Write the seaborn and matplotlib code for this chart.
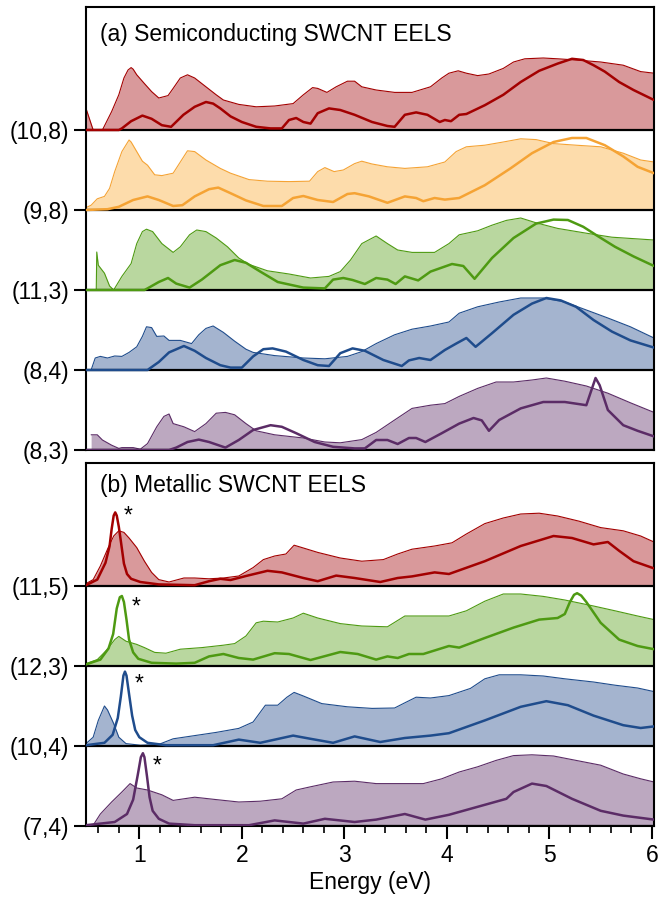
import numpy as np
import matplotlib
matplotlib.use("Agg")
import matplotlib.pyplot as plt
from matplotlib.ticker import MultipleLocator
import seaborn as sns

# ---------------- data (energy in eV, intensity in units of trace spacing) ----------------
# (a) semiconducting tubes: measured EELS (filled) and calculated loss function (line)
e_10_8_exp = [0.48, 0.55, 0.64, 0.73, 0.80, 0.85, 0.89, 0.92, 0.94, 0.975, 1.05, 1.12, 1.19, 1.28, 1.33,
              1.40, 1.47, 1.54, 1.65, 1.75, 1.82, 1.97, 2.14, 2.32, 2.50, 2.60, 2.69, 2.74, 2.83, 2.92,
              3.03, 3.10, 3.17, 3.31, 3.49, 3.66, 3.84, 3.95, 4.02, 4.11, 4.19, 4.30, 4.41, 4.55, 4.65,
              4.76, 4.94, 5.08, 5.26, 5.50, 5.72, 5.89, 6.02]
i_10_8_exp = [0.27, 0.0, 0.0, 0.23, 0.44, 0.65, 0.75, 0.78, 0.76, 0.69, 0.58, 0.48, 0.40, 0.43, 0.52,
              0.65, 0.69, 0.65, 0.54, 0.44, 0.375, 0.32, 0.29, 0.30, 0.33, 0.44, 0.53, 0.52, 0.47, 0.54,
              0.61, 0.61, 0.54, 0.50, 0.47, 0.47, 0.54, 0.65, 0.71, 0.74, 0.71, 0.68, 0.70, 0.77, 0.85,
              0.89, 0.90, 0.89, 0.875, 0.85, 0.81, 0.73, 0.71]
e_10_8_calc = [0.48, 0.80, 0.83, 0.92, 1.03, 1.12, 1.22, 1.31, 1.43, 1.54, 1.65, 1.72, 1.79, 1.89, 2.00,
               2.14, 2.28, 2.39, 2.46, 2.53, 2.60, 2.67, 2.74, 2.85, 2.96, 3.10, 3.27, 3.42, 3.49, 3.59,
               3.70, 3.81, 3.93, 3.98, 4.04, 4.12, 4.19, 4.37, 4.55, 4.72, 4.90, 5.08, 5.22, 5.33, 5.43,
               5.54, 5.68, 5.82, 6.02]
i_10_8_calc = [0.0, 0.0, 0.02, 0.11, 0.18, 0.14, 0.06, 0.04, 0.19, 0.29, 0.35, 0.33, 0.27, 0.17, 0.10,
               0.04, 0.02, 0.02, 0.125, 0.15, 0.10, 0.08, 0.21, 0.27, 0.25, 0.19, 0.10, 0.05, 0.04, 0.19,
               0.22, 0.19, 0.10, 0.125, 0.11, 0.19, 0.20, 0.31, 0.44, 0.60, 0.74, 0.83, 0.89, 0.875, 0.81,
               0.73, 0.60, 0.50, 0.375]

e_9_8_exp = [0.48, 0.53, 0.59, 0.66, 0.71, 0.76, 0.83, 0.90, 0.92, 0.975, 1.03, 1.08, 1.15, 1.22, 1.33,
             1.40, 1.47, 1.54, 1.65, 1.79, 1.89, 2.07, 2.25, 2.46, 2.66, 2.74, 2.81, 2.90, 2.99, 3.10,
             3.17, 3.27, 3.42, 3.59, 3.81, 3.98, 4.09, 4.19, 4.37, 4.55, 4.72, 4.87, 5.04, 5.26, 5.50,
             5.72, 5.89, 6.02]
i_9_8_exp = [0.03, 0.06, 0.14, 0.17, 0.27, 0.48, 0.73, 0.875, 0.85, 0.73, 0.61, 0.56, 0.44, 0.43, 0.46,
             0.60, 0.74, 0.73, 0.625, 0.52, 0.46, 0.38, 0.36, 0.355, 0.36, 0.48, 0.53, 0.48, 0.50, 0.58,
             0.61, 0.575, 0.54, 0.52, 0.54, 0.60, 0.73, 0.79, 0.81, 0.85, 0.89, 0.88, 0.83, 0.81, 0.79,
             0.71, 0.625, 0.60]
e_9_8_calc = [0.48, 0.69, 0.80, 0.94, 1.08, 1.19, 1.33, 1.42, 1.54, 1.68, 1.77, 1.89, 2.04, 2.21, 2.39,
              2.50, 2.60, 2.74, 2.89, 3.03, 3.10, 3.24, 3.42, 3.59, 3.70, 3.77, 3.88, 3.98, 4.12, 4.37,
              4.62, 4.83, 5.04, 5.22, 5.36, 5.54, 5.72, 5.86, 6.02]
i_9_8_calc = [0.0, 0.01, 0.04, 0.125, 0.17, 0.125, 0.05, 0.06, 0.17, 0.26, 0.28, 0.21, 0.12, 0.05, 0.05,
              0.15, 0.175, 0.125, 0.10, 0.20, 0.21, 0.17, 0.09, 0.17, 0.15, 0.11, 0.15, 0.13, 0.15, 0.31,
              0.52, 0.71, 0.85, 0.90, 0.90, 0.81, 0.67, 0.54, 0.46]

e_11_3_exp = [0.58, 0.585, 0.60, 0.66, 0.71, 0.75, 0.83, 0.92, 0.975, 1.03, 1.07, 1.13, 1.22, 1.33, 1.40,
              1.49, 1.56, 1.65, 1.75, 1.86, 1.97, 2.07, 2.25, 2.46, 2.67, 2.85, 2.96, 3.06, 3.17, 3.31,
              3.42, 3.52, 3.66, 3.88, 4.02, 4.12, 4.30, 4.44, 4.58, 4.72, 4.87, 5.08, 5.36, 5.61, 6.02]
i_11_3_exp = [0.0, 0.475, 0.31, 0.21, 0.05, 0.0, 0.17, 0.33, 0.58, 0.73, 0.76, 0.73, 0.58, 0.47, 0.54,
              0.69, 0.75, 0.73, 0.65, 0.54, 0.40, 0.32, 0.24, 0.20, 0.15, 0.17, 0.23, 0.375, 0.58, 0.675,
              0.58, 0.50, 0.47, 0.47, 0.58, 0.69, 0.74, 0.81, 0.87, 0.90, 0.84, 0.77, 0.71, 0.66, 0.625]
e_11_3_calc = [0.48, 1.05, 1.08, 1.19, 1.28, 1.36, 1.49, 1.61, 1.70, 1.79, 1.93, 2.04, 2.18, 2.35, 2.60,
               2.81, 2.89, 2.99, 3.08, 3.20, 3.31, 3.42, 3.50, 3.59, 3.72, 3.84, 4.05, 4.16, 4.27, 4.44,
               4.65, 4.87, 5.04, 5.18, 5.33, 5.47, 5.64, 5.82, 6.02]
i_11_3_calc = [0.0, 0.0, 0.02, 0.10, 0.15, 0.08, 0.03, 0.13, 0.22, 0.31, 0.375, 0.34, 0.23, 0.10, 0.03,
               0.02, 0.13, 0.15, 0.125, 0.075, 0.15, 0.13, 0.075, 0.17, 0.12, 0.23, 0.325, 0.30, 0.14, 0.40,
               0.65, 0.83, 0.88, 0.875, 0.79, 0.675, 0.54, 0.42, 0.30]

e_8_4_exp = [0.53, 0.57, 0.62, 0.69, 0.76, 0.83, 0.90, 0.975, 1.03, 1.07, 1.12, 1.17, 1.24, 1.29, 1.40,
             1.51, 1.58, 1.65, 1.72, 1.82, 1.93, 2.04, 2.11, 2.32, 2.60, 2.81, 3.03, 3.17, 3.31, 3.49,
             3.66, 3.84, 4.02, 4.12, 4.30, 4.51, 4.72, 4.94, 5.15, 5.36, 5.57, 5.79, 6.02]
i_8_4_exp = [0.0, 0.15, 0.17, 0.15, 0.175, 0.17, 0.22, 0.29, 0.42, 0.54, 0.53, 0.42, 0.425, 0.37, 0.37,
             0.33, 0.44, 0.52, 0.55, 0.47, 0.36, 0.26, 0.22, 0.18, 0.15, 0.14, 0.17, 0.23, 0.33, 0.44,
             0.51, 0.55, 0.60, 0.71, 0.79, 0.85, 0.90, 0.90, 0.85, 0.75, 0.65, 0.54, 0.40]
e_8_4_calc = [0.48, 1.08, 1.19, 1.29, 1.435, 1.54, 1.65, 1.79, 1.89, 2.00, 2.11, 2.21, 2.30, 2.43, 2.60,
              2.74, 2.85, 2.96, 3.08, 3.20, 3.38, 3.56, 3.63, 3.73, 3.84, 3.98, 4.09, 4.19, 4.28, 4.44,
              4.65, 4.83, 4.97, 5.11, 5.26, 5.43, 5.61, 5.79, 6.02]
i_8_4_calc = [0.0, 0.0, 0.10, 0.22, 0.30, 0.24, 0.15, 0.06, 0.03, 0.03, 0.17, 0.26, 0.27, 0.23, 0.125,
              0.06, 0.05, 0.21, 0.27, 0.24, 0.125, 0.05, 0.12, 0.15, 0.125, 0.25, 0.33, 0.40, 0.29, 0.46,
              0.69, 0.83, 0.90, 0.87, 0.79, 0.625, 0.48, 0.37, 0.28]

e_8_3_exp = [0.53, 0.59, 0.64, 0.73, 0.80, 0.83, 0.94, 1.01, 1.08, 1.17, 1.24, 1.29, 1.33, 1.435, 1.54,
             1.65, 1.75, 1.84, 1.93, 2.04, 2.14, 2.32, 2.60, 2.81, 2.96, 3.17, 3.31, 3.49, 3.66, 3.84,
             3.98, 4.12, 4.30, 4.48, 4.65, 4.83, 4.97, 5.15, 5.36, 5.57, 5.79, 6.02]
i_8_3_exp = [0.19, 0.19, 0.125, 0.06, 0.02, 0.03, 0.03, 0.01, 0.08, 0.29, 0.42, 0.45, 0.33, 0.29, 0.23,
             0.33, 0.46, 0.47, 0.44, 0.33, 0.24, 0.19, 0.15, 0.10, 0.09, 0.13, 0.22, 0.375, 0.52, 0.56,
             0.58, 0.67, 0.77, 0.85, 0.85, 0.875, 0.90, 0.86, 0.80, 0.71, 0.59, 0.47]
e_8_3_calc = [0.48, 1.29, 1.36, 1.47, 1.58, 1.68, 1.84, 1.97, 2.11, 2.28, 2.39, 2.53, 2.71, 2.89, 3.10,
              3.20, 3.31, 3.42, 3.52, 3.63, 3.70, 3.79, 3.95, 4.12, 4.26, 4.34, 4.41, 4.51, 4.72, 4.94,
              5.15, 5.36, 5.41, 5.45, 5.49, 5.57, 5.72, 5.86, 6.02]
i_8_3_calc = [0.0, 0.0, 0.03, 0.10, 0.13, 0.10, 0.03, 0.125, 0.25, 0.31, 0.29, 0.21, 0.10, 0.04, 0.02,
              0.02, 0.125, 0.125, 0.075, 0.15, 0.15, 0.10, 0.21, 0.33, 0.40, 0.37, 0.24, 0.375, 0.52, 0.60,
              0.60, 0.56, 0.75, 0.90, 0.81, 0.50, 0.31, 0.24, 0.17]

# (b) metallic tubes
e_11_5_exp = [0.48, 0.55, 0.62, 0.69, 0.75, 0.80, 0.85, 0.90, 0.975, 1.05, 1.12, 1.19, 1.29, 1.435, 1.54,
              1.68, 1.82, 1.97, 2.11, 2.21, 2.32, 2.43, 2.51, 2.60, 2.74, 2.96, 3.17, 3.38, 3.52, 3.66,
              3.88, 4.05, 4.19, 4.37, 4.55, 4.72, 4.90, 5.08, 5.29, 5.50, 5.72, 5.89, 6.02]
i_11_5_exp = [0.03, 0.08, 0.25, 0.46, 0.625, 0.69, 0.67, 0.60, 0.48, 0.31, 0.17, 0.08, 0.05, 0.10, 0.10,
              0.09, 0.10, 0.125, 0.23, 0.33, 0.375, 0.40, 0.51, 0.475, 0.42, 0.35, 0.31, 0.33, 0.40, 0.46,
              0.50, 0.54, 0.65, 0.78, 0.85, 0.90, 0.91, 0.875, 0.81, 0.73, 0.69, 0.625, 0.55]
e_11_5_calc = [0.48, 0.59, 0.67, 0.71, 0.73, 0.75, 0.765, 0.78, 0.80, 0.82, 0.85, 0.88, 0.92, 1.01, 1.19,
               1.54, 1.68, 1.79, 1.89, 2.04, 2.25, 2.39, 2.60, 2.74, 2.92, 3.10, 3.35, 3.52, 3.66, 3.88,
               4.02, 4.37, 4.72, 5.04, 5.22, 5.43, 5.57, 5.68, 5.82, 6.02]
i_11_5_calc = [0.01, 0.08, 0.29, 0.50, 0.71, 0.88, 0.92, 0.88, 0.74, 0.56, 0.28, 0.15, 0.09, 0.05, 0.02,
               0.01, 0.06, 0.09, 0.075, 0.125, 0.19, 0.17, 0.10, 0.06, 0.13, 0.10, 0.05, 0.10, 0.12, 0.17,
               0.15, 0.31, 0.50, 0.625, 0.60, 0.52, 0.55, 0.44, 0.31, 0.22]

e_12_3_exp = [0.48, 0.59, 0.69, 0.76, 0.80, 0.87, 0.975, 1.05, 1.15, 1.26, 1.40, 1.61, 1.82, 1.93, 2.04,
              2.14, 2.21, 2.35, 2.50, 2.60, 2.74, 2.96, 3.17, 3.42, 3.59, 3.81, 4.02, 4.19, 4.37, 4.55,
              4.72, 4.94, 5.15, 5.43, 5.64, 5.86, 6.02]
i_12_3_exp = [0.03, 0.08, 0.21, 0.33, 0.37, 0.31, 0.27, 0.23, 0.17, 0.16, 0.21, 0.23, 0.26, 0.28, 0.375,
              0.54, 0.56, 0.55, 0.60, 0.66, 0.60, 0.53, 0.50, 0.49, 0.625, 0.625, 0.625, 0.69, 0.81, 0.90,
              0.90, 0.87, 0.825, 0.75, 0.69, 0.625, 0.58]
e_12_3_calc = [0.48, 0.62, 0.70, 0.745, 0.78, 0.81, 0.83, 0.85, 0.875, 0.90, 0.94, 0.99, 1.12, 1.36, 1.54,
               1.68, 1.82, 1.97, 2.11, 2.32, 2.46, 2.67, 2.96, 3.13, 3.31, 3.42, 3.52, 3.63, 3.77, 4.02,
               4.12, 4.37, 4.65, 4.90, 5.08, 5.15, 5.20, 5.24, 5.27, 5.31, 5.36, 5.50, 5.68, 5.86, 6.02]
i_12_3_calc = [0.02, 0.08, 0.22, 0.40, 0.72, 0.86, 0.875, 0.80, 0.58, 0.33, 0.17, 0.09, 0.04, 0.03, 0.04,
               0.12, 0.15, 0.10, 0.08, 0.16, 0.15, 0.075, 0.175, 0.15, 0.08, 0.12, 0.10, 0.15, 0.15, 0.25,
               0.23, 0.35, 0.48, 0.58, 0.60, 0.65, 0.80, 0.89, 0.91, 0.88, 0.80, 0.54, 0.33, 0.25, 0.21]

e_10_4_exp = [0.48, 0.55, 0.60, 0.66, 0.69, 0.75, 0.80, 0.87, 1.01, 1.19, 1.33, 1.54, 1.75, 1.97, 2.11,
              2.23, 2.35, 2.44, 2.51, 2.60, 2.78, 3.03, 3.27, 3.49, 3.59, 3.70, 3.84, 4.02, 4.23, 4.37,
              4.51, 4.72, 4.94, 5.15, 5.43, 5.64, 5.86, 6.02]
i_10_4_exp = [0.03, 0.11, 0.32, 0.50, 0.45, 0.28, 0.11, 0.03, 0.01, 0.02, 0.09, 0.13, 0.17, 0.22, 0.30,
              0.51, 0.51, 0.61, 0.67, 0.625, 0.53, 0.49, 0.47, 0.475, 0.54, 0.61, 0.60, 0.63, 0.72, 0.84,
              0.89, 0.89, 0.875, 0.84, 0.80, 0.76, 0.725, 0.68]
e_10_4_calc = [0.48, 0.66, 0.74, 0.79, 0.82, 0.845, 0.86, 0.875, 0.90, 0.93, 0.96, 1.00, 1.08, 1.26, 1.72,
               1.97, 2.18, 2.50, 2.67, 2.89, 3.10, 3.35, 3.59, 3.84, 4.02, 4.37, 4.72, 4.97, 5.18, 5.43,
               5.72, 5.89, 6.02]
i_10_4_calc = [0.01, 0.04, 0.14, 0.35, 0.62, 0.88, 0.93, 0.88, 0.65, 0.38, 0.20, 0.11, 0.04, 0.01, 0.01,
               0.08, 0.04, 0.13, 0.09, 0.04, 0.12, 0.05, 0.10, 0.13, 0.16, 0.32, 0.49, 0.56, 0.51, 0.38,
               0.26, 0.225, 0.245]

e_7_4_exp = [0.55, 0.62, 0.73, 0.83, 0.91, 0.975, 1.08, 1.22, 1.33, 1.54, 1.75, 1.97, 2.18, 2.39, 2.53,
             2.67, 2.89, 3.10, 3.31, 3.52, 3.77, 3.95, 4.12, 4.30, 4.48, 4.65, 4.83, 5.04, 5.26, 5.50,
             5.72, 5.89, 6.02]
i_7_4_exp = [0.01, 0.15, 0.30, 0.425, 0.53, 0.475, 0.45, 0.39, 0.32, 0.36, 0.33, 0.30, 0.31, 0.34, 0.45,
             0.49, 0.55, 0.56, 0.53, 0.53, 0.53, 0.59, 0.675, 0.74, 0.82, 0.88, 0.89, 0.875, 0.82, 0.76,
             0.65, 0.59, 0.55]
e_7_4_calc = [0.48, 0.76, 0.88, 0.94, 0.985, 1.015, 1.035, 1.05, 1.075, 1.10, 1.13, 1.19, 1.29, 1.54, 2.07,
              2.32, 2.60, 2.81, 3.10, 3.31, 3.59, 3.79, 4.02, 4.30, 4.58, 4.65, 4.83, 4.97, 5.22, 5.50,
              5.72, 6.02]
i_7_4_calc = [0.01, 0.05, 0.15, 0.33, 0.64, 0.86, 0.91, 0.86, 0.62, 0.36, 0.19, 0.09, 0.03, 0.01, 0.01,
              0.07, 0.03, 0.09, 0.05, 0.08, 0.15, 0.08, 0.14, 0.24, 0.34, 0.425, 0.53, 0.50, 0.34, 0.19,
              0.13, 0.08]

# labels, stacking offsets and colours
labels_a = ["(10,8)", "(9,8)", "(11,3)", "(8,4)", "(8,3)"]
offsets_a = [4, 3, 2, 1, 0]
labels_b = ["(11,5)", "(12,3)", "(10,4)", "(7,4)"]
offsets_b = [3, 2, 1, 0]
# position of the "*" mark over each metallic-tube peak (energy, height above baseline)
star_e = [0.89, 0.97, 1.00, 1.17]
star_h = [0.87, 0.74, 0.78, 0.755]

line_colors = {"red": "#a30000", "orange": "#f5a334", "green": "#4e9a12",
               "blue": "#1f4c8c", "purple": "#5b2c66"}
fill_colors = {"red": "#d9999b", "orange": "#fddcab", "green": "#b9d79f",
               "blue": "#a4b4cf", "purple": "#bca8c0"}

traces_a = [
    (e_10_8_exp, i_10_8_exp, e_10_8_calc, i_10_8_calc, "red"),
    (e_9_8_exp, i_9_8_exp, e_9_8_calc, i_9_8_calc, "orange"),
    (e_11_3_exp, i_11_3_exp, e_11_3_calc, i_11_3_calc, "green"),
    (e_8_4_exp, i_8_4_exp, e_8_4_calc, i_8_4_calc, "blue"),
    (e_8_3_exp, i_8_3_exp, e_8_3_calc, i_8_3_calc, "purple"),
]
traces_b = [
    (e_11_5_exp, i_11_5_exp, e_11_5_calc, i_11_5_calc, "red"),
    (e_12_3_exp, i_12_3_exp, e_12_3_calc, i_12_3_calc, "green"),
    (e_10_4_exp, i_10_4_exp, e_10_4_calc, i_10_4_calc, "blue"),
    (e_7_4_exp, i_7_4_exp, e_7_4_calc, i_7_4_calc, "purple"),
]

# ---------------- styling ----------------
sns.set_theme(style="ticks")
plt.rcParams["font.family"] = ["Liberation Sans", "DejaVu Sans"]
plt.rcParams["axes.linewidth"] = 1.5
for key in ["text.color", "axes.labelcolor", "xtick.color", "ytick.color", "axes.edgecolor"]:
    plt.rcParams[key] = "black"
FS = 16.5

W, H = 659, 897
fig = plt.figure(figsize=(W / 100, H / 100), dpi=100)
left, right = 86, 654
ax_a = fig.add_axes([left / W, 1 - 450 / H, (right - left) / W, (450 - 7) / H])
ax_b = fig.add_axes([left / W, 1 - 826 / H, (right - left) / W, (826 - 463) / H])


def draw_trace(ax, offset, e_exp, i_exp, e_calc, i_calc, cname):
    assert len(e_exp) == len(i_exp) and len(e_calc) == len(i_calc)
    lc, fc = line_colors[cname], fill_colors[cname]
    y_exp = offset + np.asarray(i_exp)
    ax.fill_between(e_exp, offset, y_exp, color=fc, lw=0, zorder=1)
    sns.lineplot(x=e_exp, y=y_exp, ax=ax, color=lc, lw=0.8, estimator=None,
                 sort=False, legend=False, zorder=2)
    ax.axhline(offset, color="black", lw=1.6, zorder=3)
    sns.lineplot(x=e_calc, y=offset + np.asarray(i_calc), ax=ax, color=lc, lw=1.8,
                 estimator=None, sort=False, legend=False, zorder=4)


for ax, traces, offs, labs in [(ax_a, traces_a, offsets_a, labels_a),
                               (ax_b, traces_b, offsets_b, labels_b)]:
    for (ee, ie, ec, ic, cn), off in zip(traces, offs):
        draw_trace(ax, off, ee, ie, ec, ic, cn)
    ax.set_xlim(0.48, 6.02)
    ax.set_yticks(offs)
    ax.set_yticklabels(labs, fontsize=FS)
    ax.tick_params(axis="y", direction="out", length=9, width=1.5, left=True, right=False,
                   pad=3, colors="black")
    ax.set_xlabel("")
    ax.set_ylabel("")
    for sp in ax.spines.values():
        sp.set_visible(True)
        sp.set_color("black")
        sp.set_linewidth(1.5)

ax_a.set_ylim(0, (450 - 7) / 80)
ax_b.set_ylim(0, (826 - 463) / 80)

ax_a.tick_params(axis="x", bottom=False, labelbottom=False)
ax_b.xaxis.set_major_locator(MultipleLocator(1))
ax_b.xaxis.set_minor_locator(MultipleLocator(0.2))
ax_b.tick_params(axis="x", which="major", direction="out", length=9, width=1.5, labelsize=FS,
                 pad=4, colors="black")
ax_b.tick_params(axis="x", which="minor", direction="out", length=5, width=1.2, bottom=True,
                 colors="black")
ax_b.set_xlabel("Energy (eV)", fontsize=FS, labelpad=3)

ax_a.text(0.025, 1 - 27 / 443, "(a) Semiconducting SWCNT EELS", transform=ax_a.transAxes,
          fontsize=FS, va="center", ha="left")
ax_b.text(0.025, 1 - 22 / 363, "(b) Metallic SWCNT EELS", transform=ax_b.transAxes,
          fontsize=FS, va="center", ha="left")

for e, h, off in zip(star_e, star_h, offsets_b):
    ax_b.text(e, off + h, "*", fontsize=FS, ha="center", va="center")

fig.savefig("out.png", dpi=100)
